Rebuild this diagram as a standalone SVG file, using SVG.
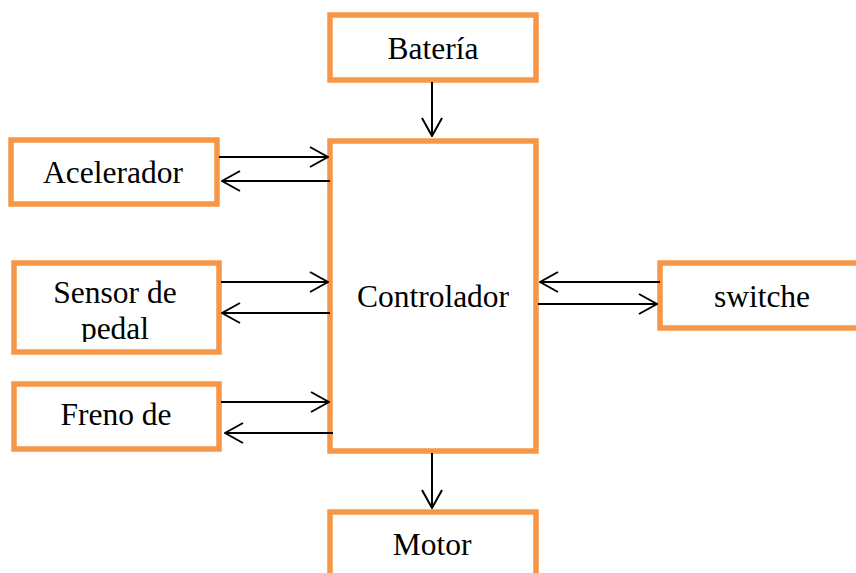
<svg xmlns="http://www.w3.org/2000/svg" width="856" height="573" viewBox="0 0 856 573">
<style>
.box{fill:#fff;stroke:#F79646;stroke-width:5.5}
.lbl{font-size:31.5px;fill:#000;text-anchor:middle}
.con{stroke:#000;stroke-width:2;fill:none;marker-end:url(#arr)}
</style>
<defs>
<marker id="arr" markerUnits="userSpaceOnUse" viewBox="0 0 20 22" refX="19" refY="11" markerWidth="20" markerHeight="22" orient="auto">
<path d="M1,1 L19,11 L1,21" fill="none" stroke="#000" stroke-width="2"/>
</marker>
<clipPath id="clipSensor"><rect x="14" y="263" width="205" height="79"/></clipPath>
</defs>
<rect width="856" height="573" fill="#fff"/>
<g font-family="'Liberation Serif', 'Times New Roman', serif">
<g id="bateria"><rect class="box" x="330" y="15" width="206" height="65"/><text class="lbl" x="433" y="59">Batería</text></g>
<g id="controlador"><rect class="box" x="330" y="141" width="206" height="310"/><text class="lbl" x="433" y="307">Controlador</text></g>
<g id="motor"><rect class="box" x="330" y="512" width="206" height="80"/><text class="lbl" x="432" y="555">Motor</text></g>
<g id="acelerador"><rect class="box" x="11" y="140" width="206" height="64"/><text class="lbl" x="113" y="183">Acelerador</text></g>
<g id="sensor"><rect class="box" x="14" y="263" width="205" height="89"/><g clip-path="url(#clipSensor)"><text class="lbl" x="115" y="303">Sensor de</text><text class="lbl" x="115" y="339">pedal</text></g></g>
<g id="freno"><rect class="box" x="14" y="384" width="205" height="65"/><text class="lbl" x="116" y="425">Freno de</text></g>
<g id="switche"><rect class="box" x="660" y="263" width="220" height="65"/><text class="lbl" x="762" y="307">switche</text></g>
</g>
<g id="connectors">
<line class="con" x1="432" y1="82" x2="432" y2="136"/>
<line class="con" x1="219" y1="157" x2="328" y2="157"/>
<line class="con" x1="330" y1="181" x2="222" y2="181"/>
<line class="con" x1="221" y1="282" x2="328" y2="282"/>
<line class="con" x1="330" y1="313" x2="222" y2="313"/>
<line class="con" x1="221" y1="402" x2="329" y2="402"/>
<line class="con" x1="333" y1="433" x2="225" y2="433"/>
<line class="con" x1="660" y1="282" x2="540" y2="282"/>
<line class="con" x1="538" y1="304" x2="657" y2="304"/>
<line class="con" x1="432" y1="453" x2="432" y2="508"/>
</g>
</svg>
